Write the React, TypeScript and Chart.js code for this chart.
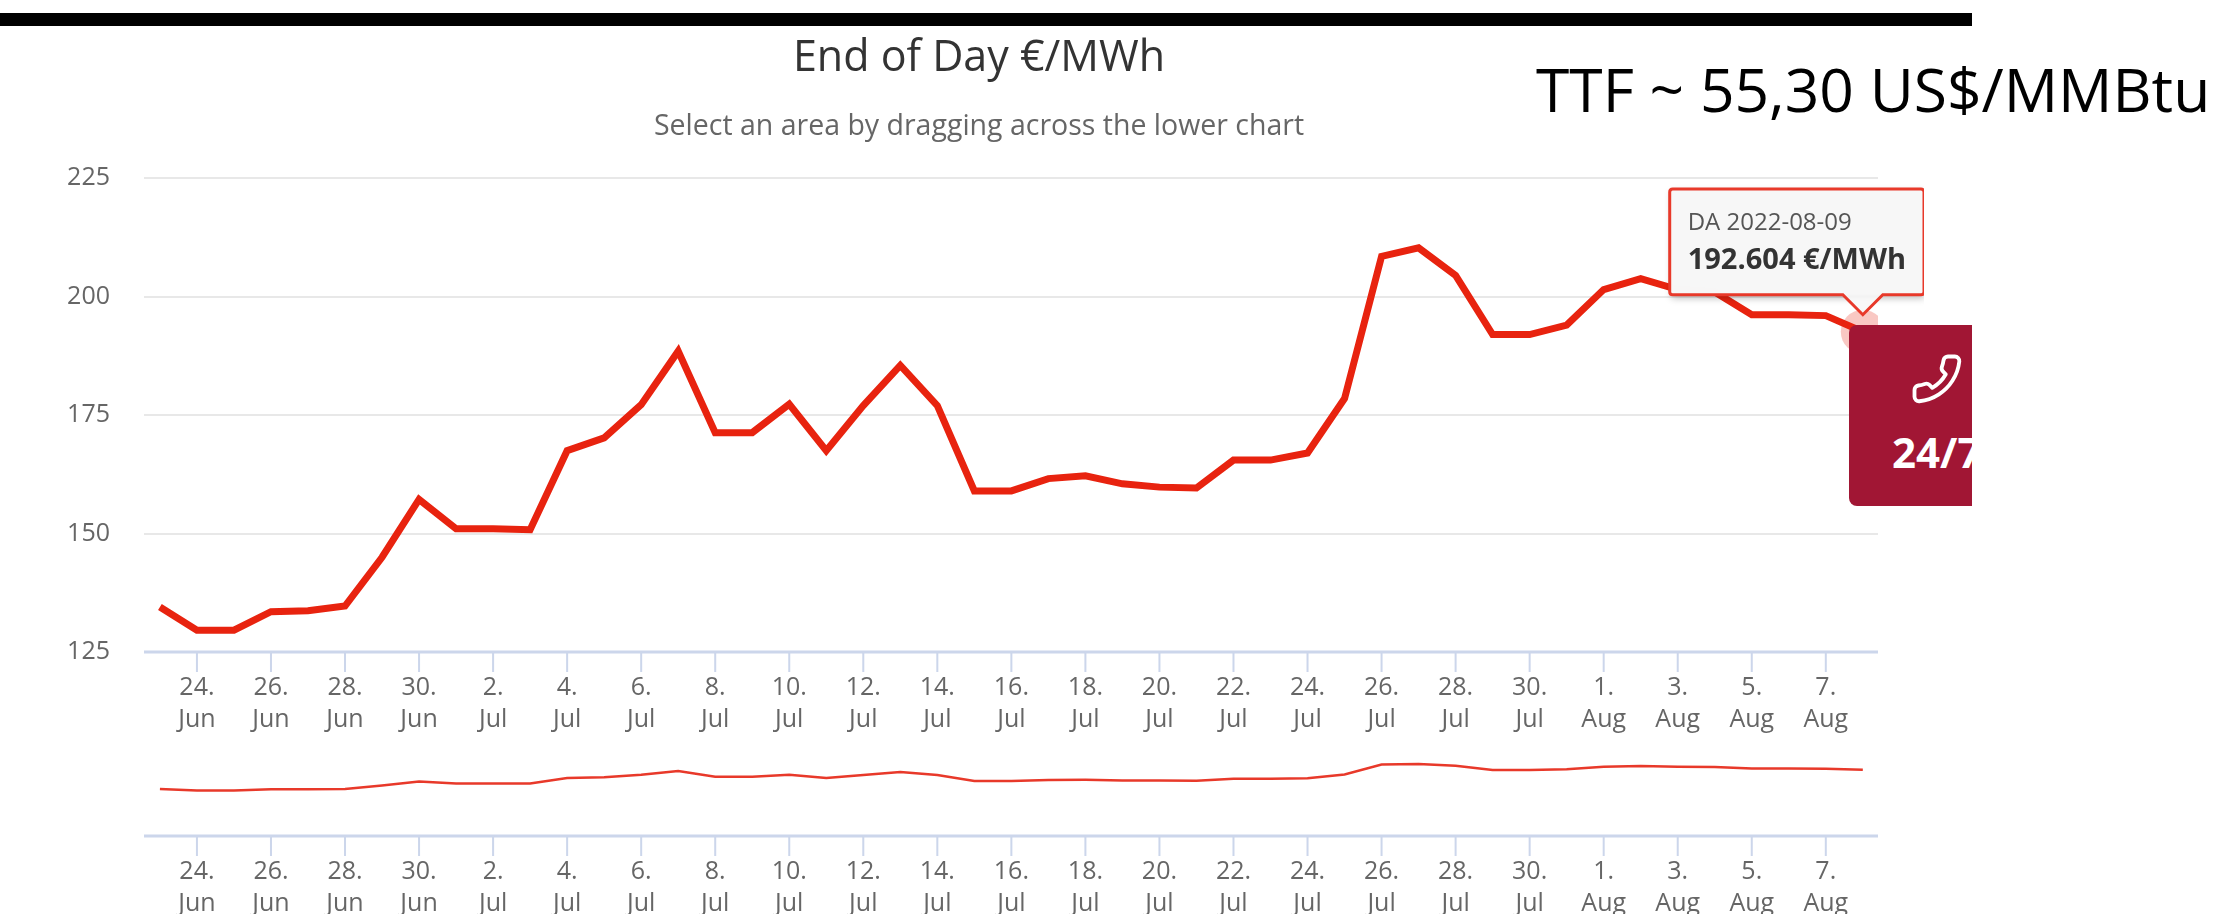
import React, { useEffect, useRef } from "react";
import { Chart, registerables } from "chart.js";

Chart.register(...registerables);

const dayLabels = ["23.","24.","25.","26.","27.","28.","29.","30.","1.","2.","3.","4.","5.","6.","7.","8.","9.","10.","11.","12.","13.","14.","15.","16.","17.","18.","19.","20.","21.","22.","23.","24.","25.","26.","27.","28.","29.","30.","31.","1.","2.","3.","4.","5.","6.","7.","8."];
const monthLabels = ["Jun","Jun","Jun","Jun","Jun","Jun","Jun","Jun","Jul","Jul","Jul","Jul","Jul","Jul","Jul","Jul","Jul","Jul","Jul","Jul","Jul","Jul","Jul","Jul","Jul","Jul","Jul","Jul","Jul","Jul","Jul","Jul","Jul","Jul","Jul","Jul","Jul","Jul","Jul","Aug","Aug","Aug","Aug","Aug","Aug","Aug","Aug"];
const eodValues = [134.5,129.6,129.6,133.5,133.7,134.7,145,157.2,151,151,150.8,167.5,170.2,177.2,188.5,171.3,171.3,177.3,167.5,177,185.5,177,159,159,161.6,162.2,160.5,159.8,159.6,165.5,165.5,167,178.5,208.5,210.3,204.5,192,192,194,201.5,203.8,201.5,201,196.2,196.2,196,192.604];
const tickIndexes = [1,3,5,7,9,11,13,15,17,19,21,23,25,27,29,31,33,35,37,39,41,43,45];
const yTicks = [125,150,175,200,225];
const titleText = "End of Day €/MWh";
const subtitleText = "Select an area by dragging across the lower chart";
const tooltipTitle = "DA 2022-08-09";
const noteText = "TTF ~ 55,30 US$/MMBtu";
const FONT = "'Open Sans', sans-serif";

const points = eodValues.map((y, x) => ({ x, y }));

const xAxis = () => ({
  type: "linear" as const,
  min: -0.43,
  max: 46.41,
  afterBuildTicks: (s: any) => { s.ticks = tickIndexes.map((value) => ({ value })); },
  afterFit: (s: any) => { s.height = s.chart.height - s.chart.$axisBottom; },
  grid: { display: false, drawTicks: false },
  border: { display: false },
  ticks: {
    autoSkip: false,
    maxRotation: 0,
    padding: 20,
    color: "#666666",
    font: { family: FONT, size: 25, lineHeight: 1.28 },
    callback: (v: any) => [dayLabels[v], monthLabels[v]],
  },
});

// Highcharts-style axis line and tick marks under the plot
const axisPlugin = {
  id: "axisPlugin",
  beforeDraw(chart: any) {
    // the y labels sit left of the scale box: widen the box so they are not clipped
    if (chart.scales.y) chart.scales.y.left = 0;
  },
  afterDraw(chart: any) {
    const { ctx, chartArea, scales } = chart;
    ctx.save();
    ctx.strokeStyle = "#ccd6eb";
    ctx.lineWidth = 3;
    ctx.beginPath();
    ctx.moveTo(chartArea.left, chartArea.bottom);
    ctx.lineTo(chartArea.right, chartArea.bottom);
    ctx.stroke();
    ctx.lineWidth = 2;
    ctx.beginPath();
    tickIndexes.forEach((t) => {
      const px = scales.x.getPixelForValue(t);
      ctx.moveTo(px, chartArea.bottom);
      ctx.lineTo(px, chartArea.bottom + 20);
    });
    ctx.stroke();
    ctx.restore();
  },
};

// soft drop shadow under the tooltip box
const tooltipShadow = {
  id: "tooltipShadow",
  beforeTooltipDraw(chart: any, args: any) {
    const t = args.tooltip;
    const { ctx } = chart;
    ctx.save();
    ctx.shadowColor = "rgba(0,0,0,0.3)";
    ctx.shadowBlur = 7;
    ctx.shadowOffsetX = 1;
    ctx.shadowOffsetY = 3;
    ctx.fillStyle = "rgba(247,247,247,0.92)";
    ctx.fillRect(t.x, t.y, t.width, t.height);
    ctx.restore();
  },
};

export default function App() {
  const mainRef = useRef<HTMLCanvasElement>(null);
  const navRef = useRef<HTMLCanvasElement>(null);

  useEffect(() => {
    const main: any = new Chart(mainRef.current!, {
      type: "line",
      data: {
        datasets: [{
          data: points,
          borderColor: "#e8230f",
          borderWidth: 7,
          borderJoinStyle: "miter",
          tension: 0,
          pointRadius: 0,
          pointHoverRadius: 22,
          pointHoverBorderWidth: 0,
          pointHoverBackgroundColor: "rgba(232,35,15,0.25)",
        }],
      } as any,
      plugins: [{ id: "axisBottomInit", beforeInit(c: any) { c.$axisBottom = 652; } }, axisPlugin, tooltipShadow],
      options: {
        responsive: false,
        animation: false,
        events: [],
        layout: { padding: { left: 80, right: 46, top: 0, bottom: 0 } },
        scales: {
          x: xAxis(),
          y: {
            min: 125,
            max: 225,
            afterBuildTicks: (s: any) => { s.ticks = yTicks.map((value) => ({ value })); },
            afterFit: (s: any) => { s.width = 64; },
            grid: { color: "#e8e8e8", lineWidth: 2, drawTicks: false },
            border: { display: false },
            ticks: { color: "#666666", padding: 34, font: { family: FONT, size: 25 } },
          },
        },
        plugins: {
          legend: { display: false },
          title: {
            display: true,
            text: titleText,
            color: "#333333",
            font: { family: FONT, size: 43, weight: "normal", lineHeight: 1.2 },
            padding: { top: 33, bottom: 24 },
          },
          subtitle: {
            display: true,
            text: subtitleText,
            color: "#666666",
            font: { family: FONT, size: 28.5, weight: "normal", lineHeight: 1.25 },
            padding: { top: 0, bottom: 34 },
          },
          tooltip: {
            enabled: true,
            animation: false,
            xAlign: "center",
            yAlign: "bottom",
            displayColors: false,
            backgroundColor: "rgba(247,247,247,0.92)",
            borderColor: "#e8392a",
            borderWidth: 3,
            cornerRadius: 3,
            caretSize: 20,
            caretPadding: 17,
            padding: { left: 18, right: 18, top: 20, bottom: 17 },
            titleColor: "#555555",
            titleFont: { family: FONT, size: 24, weight: "normal" },
            titleMarginBottom: 5,
            bodyColor: "#333333",
            bodyFont: { family: FONT, size: 29, weight: "bold" },
            callbacks: {
              title: () => tooltipTitle,
              label: (c: any) => `${c.parsed.y.toFixed(3)} €/MWh`,
            },
          },
        },
      } as any,
    });
    const last = [{ datasetIndex: 0, index: eodValues.length - 1 }];
    main.setActiveElements(last);
    main.tooltip.setActiveElements(last, { x: 0, y: 0 });
    main.render();

    const nav: any = new Chart(navRef.current!, {
      type: "line",
      data: {
        datasets: [{
          data: points,
          borderColor: "#e8392a",
          borderWidth: 2.5,
          tension: 0,
          pointRadius: 0,
        }],
      } as any,
      plugins: [{ id: "axisBottomInit", beforeInit(c: any) { c.$axisBottom = 836; } }, axisPlugin],
      options: {
        responsive: false,
        animation: false,
        events: [],
        layout: { padding: { left: 144, right: 340, top: 740, bottom: 0 } },
        scales: {
          x: xAxis(),
          y: { display: false, min: -7.5, max: 282.5 },
        },
        plugins: { legend: { display: false }, title: { display: false }, tooltip: { enabled: false } },
      } as any,
    });

    return () => { main.destroy(); nav.destroy(); };
  }, []);

  return (
    <div style={{ position: "absolute", left: 0, top: 0, width: 2218, height: 914, overflow: "hidden", background: "#fff" }}>
      <div style={{ position: "absolute", left: 0, top: 13, width: 1972, height: 13, background: "#000" }} />
      <canvas ref={navRef} width={2218} height={914} style={{ position: "absolute", left: 0, top: 0, width: 2218, height: 914 }} />
      <canvas ref={mainRef} width={1924} height={760} style={{ position: "absolute", left: 0, top: 0, width: 1924, height: 760 }} />
      <div style={{ position: "absolute", left: 1849, top: 325, width: 123, height: 181, background: "#a11634", borderRadius: "8px 0 0 8px", overflow: "hidden", color: "#fff" }}>
        <svg viewBox="0 0 24 24" width="54" height="54" style={{ position: "absolute", left: 61, top: 27, transform: "rotate(-90deg)" }} fill="none" stroke="#fff" strokeWidth="1.7" strokeLinejoin="round">
          <path d="M22 16.92v3a2 2 0 0 1-2.18 2 19.79 19.79 0 0 1-8.63-3.07 19.5 19.5 0 0 1-6-6 19.79 19.79 0 0 1-3.07-8.67A2 2 0 0 1 4.11 2h3a2 2 0 0 1 2 1.72c.13.96.36 1.9.7 2.81a2 2 0 0 1-.45 2.11L8.09 9.91a16 16 0 0 0 6 6l1.27-1.27a2 2 0 0 1 2.11-.45c.91.34 1.85.57 2.81.7A2 2 0 0 1 22 16.92z" />
        </svg>
        <div style={{ position: "absolute", left: 43, top: 98, font: `bold 42px ${FONT}`, whiteSpace: "nowrap" }}>24/7</div>
      </div>
      <div style={{ position: "absolute", left: 1536, top: 49, font: `60.5px ${FONT}`, color: "#000", whiteSpace: "nowrap", lineHeight: "80px" }}>{noteText}</div>
    </div>
  );
}
